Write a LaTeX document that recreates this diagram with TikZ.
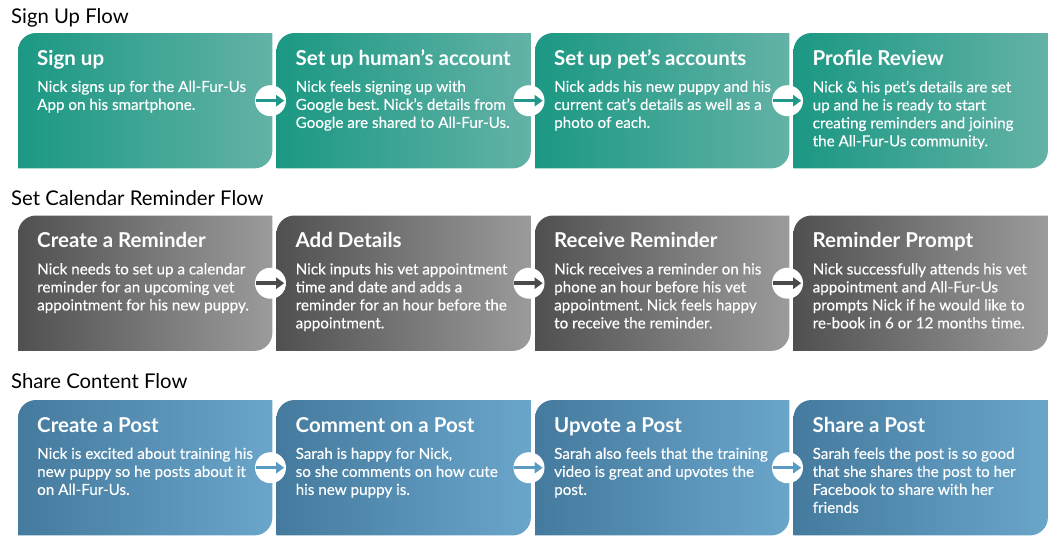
\documentclass[tikz,border=0pt]{standalone}
\usepackage{fontspec}
\setmainfont{Lato}
\newfontfamily\bodyfont[FakeBold=0.3]{Lato}
\usetikzlibrary{arrows.meta}
\frenchspacing

\definecolor{signleft}{HTML}{1B9883}
\definecolor{signright}{HTML}{63B2A6}
\definecolor{signarrow}{HTML}{23978A}
\definecolor{remleft}{HTML}{505050}
\definecolor{remright}{HTML}{9B9B9B}
\definecolor{remarrow}{HTML}{4A4A4A}
\definecolor{shareleft}{HTML}{447A9E}
\definecolor{shareright}{HTML}{6AA6CA}
\definecolor{sharearrow}{HTML}{5B9AC3}

\def\boxw{254}
\def\boxh{135}
\def\xspace{258.5}
\def\xoffset{18}
\def\rad{18}

\tikzset{
    flowbox/.style={rectangle, anchor=north west, minimum width=\boxw pt, minimum height=\boxh pt, inner sep=0pt},
    boxtitle/.style={anchor=base west, inner sep=0pt, text=white, font=\fontsize{20.5}{24}\selectfont\bfseries},
    boxtext/.style={anchor=north west, inner sep=0pt, text=white, align=left, font=\fontsize{15.2}{18}\bodyfont},
    flowhead/.style={anchor=base west, inner sep=0pt, font=\fontsize{20.3}{22}\selectfont},
    stepdot/.style={circle, fill=white, minimum size=31pt, inner sep=0pt},
    steparrow/.style={line width=3.5pt, -{Triangle[width=11pt, length=8pt]}},
}

% Box outline: top-left and bottom-right corners rounded.
\newcommand{\boxshade}[3]{%
    \shade[left color=#2, right color=#3] (#1.south west) -- ([yshift=-\rad pt]#1.north west)
    arc[start angle=180, end angle=90, radius=\rad pt] -- (#1.north east) -- ([yshift=\rad pt]#1.south east)
    arc[start angle=0, end angle=-90, radius=\rad pt] -- cycle;}

\begin{document}
\begin{tikzpicture}[x=1pt, y=1pt]
    \useasboundingbox (0,0) rectangle (1060,-547);

    % Boxes of the three flows.
    \foreach \i in {1,...,4} {
            \node[flowbox] (s\i) at ({\xoffset + (\i-1)*\xspace}, -33) {};
            \node[flowbox] (r\i) at ({\xoffset + (\i-1)*\xspace}, -215.5) {};
            \node[flowbox] (p\i) at ({\xoffset + (\i-1)*\xspace}, -400) {};
            \boxshade{s\i}{signleft}{signright}
            \boxshade{r\i}{remleft}{remright}
            \boxshade{p\i}{shareleft}{shareright}
        }

    % Flow headings.
    \node[flowhead] (h1) at (11,-23) {Sign Up Flow};
    \node[flowhead] (h2) at (11,-205) {Set Calendar Reminder Flow};
    \node[flowhead] (h3) at (11,-388) {Share Content Flow};

    % Step arrows between neighbouring boxes.
    \foreach \i/\j in {1/2, 2/3, 3/4} {
            \node[stepdot] (sa\i) at ([xshift=-6pt]s\j.west) {};
            \draw[steparrow, signarrow] ([xshift=1pt]sa\i.west) -- ([xshift=-2pt]sa\i.east);
            \node[stepdot] (ra\i) at ([xshift=-6pt]r\j.west) {};
            \draw[steparrow, remarrow] ([xshift=1pt]ra\i.west) -- ([xshift=-2pt]ra\i.east);
            \node[stepdot] (pa\i) at ([xshift=-6pt]p\j.west) {};
            \draw[steparrow, sharearrow] ([xshift=1pt]pa\i.west) -- ([xshift=-2pt]pa\i.east);
        }

    % Sign up flow.
    \node[boxtitle] (s1t) at ([shift={(19pt,-32pt)}]s1.north west) {Sign up};
    \node[boxtext] (s1b) at ([shift={(19pt,-47.5pt)}]s1.north west) {Nick signs up for the All-Fur-Us\\App on his smartphone.};
    \node[boxtitle] (s2t) at ([shift={(19pt,-32pt)}]s2.north west) {Set up human’s account};
    \node[boxtext] (s2b) at ([shift={(19pt,-47.5pt)}]s2.north west) {Nick feels signing up with\\Google best. Nick’s details from\\Google are shared to All-Fur-Us.};
    \node[boxtitle] (s3t) at ([shift={(19pt,-32pt)}]s3.north west) {Set up pet’s accounts};
    \node[boxtext] (s3b) at ([shift={(19pt,-47.5pt)}]s3.north west) {Nick adds his new puppy and his\\current cat’s details as well as a\\photo of each.};
    \node[boxtitle] (s4t) at ([shift={(19pt,-32pt)}]s4.north west) {Profile Review};
    \node[boxtext] (s4b) at ([shift={(19pt,-47.5pt)}]s4.north west) {Nick \& his pet’s details are set\\up and he is ready to start\\creating reminders and joining\\the All-Fur-Us community.};

    % Calendar reminder flow.
    \node[boxtitle] (r1t) at ([shift={(19pt,-32pt)}]r1.north west) {Create a Reminder};
    \node[boxtext] (r1b) at ([shift={(19pt,-47.5pt)}]r1.north west) {Nick needs to set up a calendar\\reminder for an upcoming vet\\appointment for his new puppy.};
    \node[boxtitle] (r2t) at ([shift={(19pt,-32pt)}]r2.north west) {Add Details};
    \node[boxtext] (r2b) at ([shift={(19pt,-47.5pt)}]r2.north west) {Nick inputs his vet appointment\\time and date and adds a\\reminder for an hour before the\\appointment.};
    \node[boxtitle] (r3t) at ([shift={(19pt,-32pt)}]r3.north west) {Receive Reminder};
    \node[boxtext] (r3b) at ([shift={(19pt,-47.5pt)}]r3.north west) {Nick receives a reminder on his\\phone an hour before his vet\\appointment. Nick feels happy\\to receive the reminder.};
    \node[boxtitle] (r4t) at ([shift={(19pt,-32pt)}]r4.north west) {Reminder Prompt};
    \node[boxtext] (r4b) at ([shift={(19pt,-47.5pt)}]r4.north west) {Nick successfully attends his vet\\appointment and All-Fur-Us\\prompts Nick if he would like to\\re-book in 6 or 12 months time.};

    % Share content flow.
    \node[boxtitle] (p1t) at ([shift={(19pt,-32pt)}]p1.north west) {Create a Post};
    \node[boxtext] (p1b) at ([shift={(19pt,-47.5pt)}]p1.north west) {Nick is excited about training his\\new puppy so he posts about it\\on All-Fur-Us.};
    \node[boxtitle] (p2t) at ([shift={(19pt,-32pt)}]p2.north west) {Comment on a Post};
    \node[boxtext] (p2b) at ([shift={(19pt,-47.5pt)}]p2.north west) {Sarah is happy for Nick,\\so she comments on how cute\\his new puppy is.};
    \node[boxtitle] (p3t) at ([shift={(19pt,-32pt)}]p3.north west) {Upvote a Post};
    \node[boxtext] (p3b) at ([shift={(19pt,-47.5pt)}]p3.north west) {Sarah also feels that the training\\video is great and upvotes the\\post.};
    \node[boxtitle] (p4t) at ([shift={(19pt,-32pt)}]p4.north west) {Share a Post};
    \node[boxtext] (p4b) at ([shift={(19pt,-47.5pt)}]p4.north west) {Sarah feels the post is so good\\that she shares the post to her\\Facebook to share with her\\friends};
\end{tikzpicture}
\end{document}
